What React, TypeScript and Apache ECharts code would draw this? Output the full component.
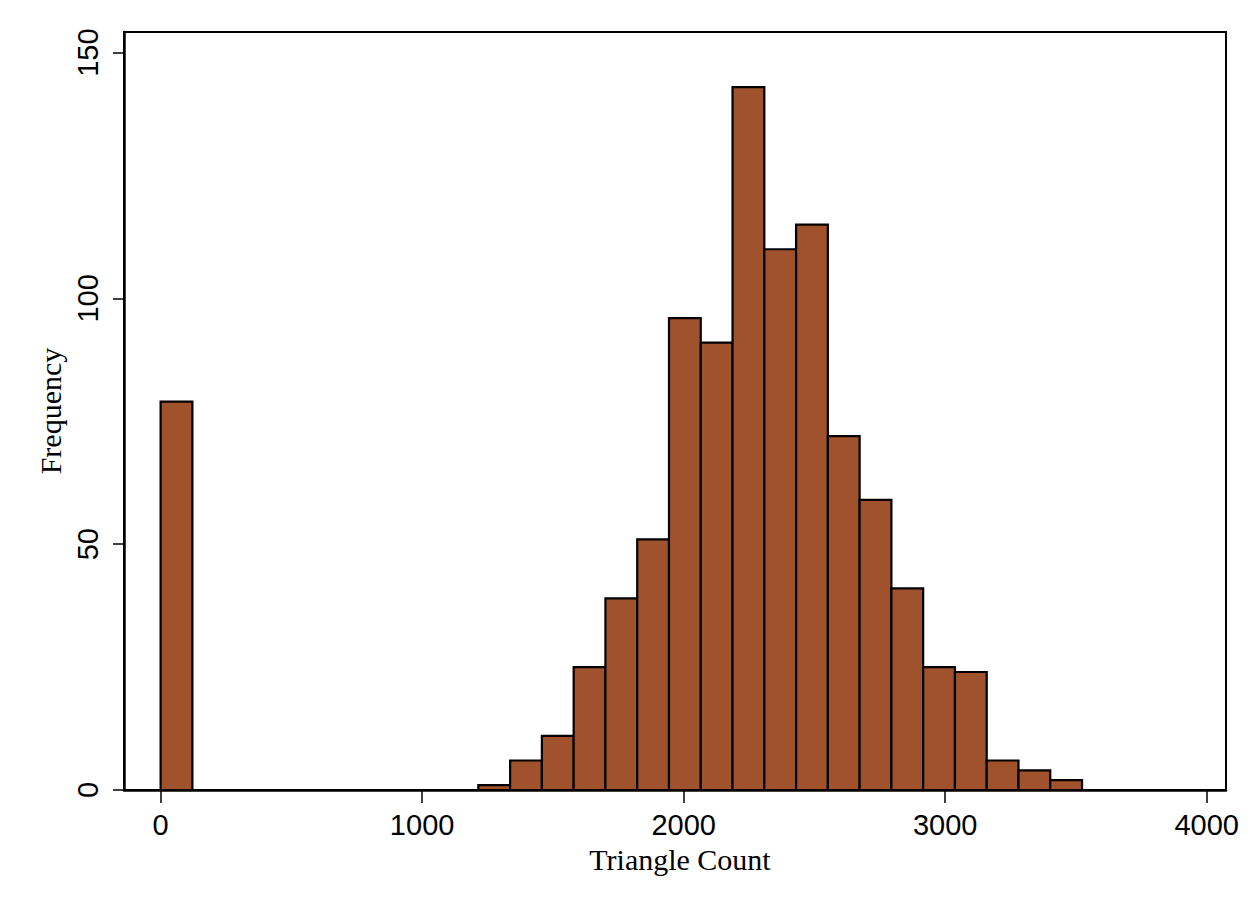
import React, { useEffect, useRef } from "react";
import * as echarts from "echarts";

// Histogram bins: left edge, right edge (Triangle Count), frequency
const binStart = [0, 1215, 1336.5, 1458, 1579.5, 1701, 1822.5, 1944, 2065.5, 2187, 2308.5, 2430, 2551.5, 2673, 2794.5, 2916, 3037.5, 3159, 3280.5, 3402];
const binEnd = [121.5, 1336.5, 1458, 1579.5, 1701, 1822.5, 1944, 2065.5, 2187, 2308.5, 2430, 2551.5, 2673, 2794.5, 2916, 3037.5, 3159, 3280.5, 3402, 3523.5];
const frequency = [79, 1, 6, 11, 25, 39, 51, 96, 91, 143, 110, 115, 72, 59, 41, 25, 24, 6, 4, 2];

const xTicks = [0, 1000, 2000, 3000, 4000];
const yTicks = [0, 50, 100, 150];

const BAR_COLOR = "#A0522D";

export default function App() {
  const ref = useRef<HTMLDivElement>(null);
  useEffect(() => {
    if (!ref.current) return;
    const chart = echarts.init(ref.current, null, { renderer: "svg" });
    const data = binStart.map((s, i) => [s, binEnd[i], frequency[i]]);
    chart.setOption({
      animation: false,
      backgroundColor: "#fff",
      grid: {
        left: 124,
        right: 34,
        top: 32,
        bottom: 126,
        show: true,
        borderColor: "#000",
        borderWidth: 2,
        backgroundColor: "transparent",
      },
      xAxis: {
        type: "value",
        min: -140,
        max: 4074,
        name: "Triangle Count",
        nameLocation: "middle",
        nameGap: 54,
        nameTextStyle: { fontFamily: "Liberation Serif", fontSize: 30, color: "#000", padding: [0, 0, 0, 10] },
        axisLine: { show: true, onZero: false, lineStyle: { color: "#000", width: 2.5 } },
        axisTick: { show: true, customValues: xTicks, length: 13, lineStyle: { color: "#000", width: 1.5 } },
        axisLabel: {
          customValues: xTicks,
          formatter: (v: number) => String(v),
          fontFamily: "Liberation Sans",
          fontSize: 29,
          color: "#000",
          margin: 20,
        },
        splitLine: { show: false },
      },
      yAxis: {
        type: "value",
        min: 0,
        max: 154.2,
        name: "Frequency",
        nameLocation: "middle",
        nameGap: 50,
        nameTextStyle: { fontFamily: "Liberation Serif", fontSize: 30, color: "#000" },
        axisLine: { show: true, onZero: false, lineStyle: { color: "#000", width: 2.5 } },
        axisTick: { show: true, customValues: yTicks, length: 11, lineStyle: { color: "#000", width: 1.5 } },
        axisLabel: {
          customValues: yTicks,
          formatter: (v: number) => String(v),
          rotate: 90,
          fontFamily: "Liberation Sans",
          fontSize: 29,
          color: "#000",
          margin: 22,
        },
        splitLine: { show: false },
      },
      series: [
        {
          type: "custom",
          data,
          encode: { x: [0, 1], y: 2 },
          renderItem: (params: any, api: any) => {
            const p0 = api.coord([api.value(0), api.value(2)]);
            const p1 = api.coord([api.value(1), 0]);
            return {
              type: "rect",
              shape: { x: p0[0], y: p0[1], width: p1[0] - p0[0], height: p1[1] - p0[1] },
              style: { fill: BAR_COLOR, stroke: "#000", lineWidth: 2.2 },
            };
          },
        },
      ],
    });
    return () => chart.dispose();
  }, []);
  return <div ref={ref} style={{ width: 1260, height: 916, position: "absolute", left: 0, top: 0 }} />;
}
